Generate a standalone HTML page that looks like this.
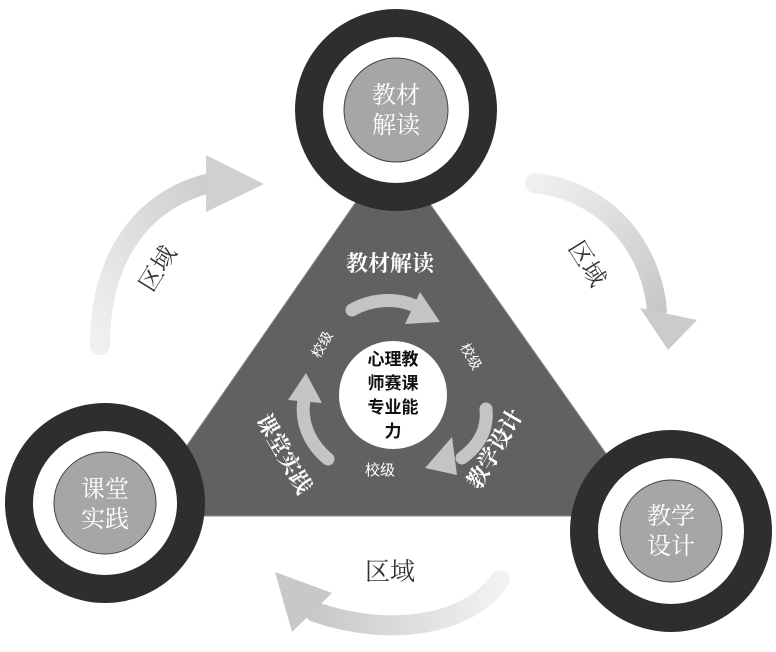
<!DOCTYPE html>
<html><head><meta charset="utf-8"><style>
html,body{margin:0;padding:0;background:#fff;}
svg{display:block;}
.s{font-family:"Liberation Serif","Noto Serif CJK SC",serif;}
.b{font-family:"Liberation Sans","Noto Sans CJK SC",sans-serif;}
</style></head><body>
<svg width="776" height="652" viewBox="0 0 776 652" xmlns="http://www.w3.org/2000/svg">
<defs>
<linearGradient id="gl" x1="0" y1="1" x2="1" y2="0"><stop offset="0" stop-color="#f0f0f0"/><stop offset="1" stop-color="#cdcdcd"/></linearGradient>
<linearGradient id="gr" x1="0" y1="0" x2="1" y2="1"><stop offset="0" stop-color="#f0f0f0"/><stop offset="1" stop-color="#c8c8c8"/></linearGradient>
<linearGradient id="gb" x1="1" y1="0" x2="0" y2="0"><stop offset="0" stop-color="#f2f2f2"/><stop offset="1" stop-color="#c8c8c8"/></linearGradient>
</defs>
<!-- outer arrows -->
<path d="M100,345 C100,260 140,200 210,183" fill="none" stroke="url(#gl)" stroke-width="20" stroke-linecap="round"/>
<polygon points="206,155 264,184 206,212" fill="#d0d0d0"/>
<path d="M535,183 C600,190 650,240 657,310" fill="none" stroke="url(#gr)" stroke-width="20" stroke-linecap="round"/>
<polygon points="640,308 697,320 668,350" fill="#cbcbcb"/>
<path d="M500,580 C470,625 390,638 315,612" fill="none" stroke="url(#gb)" stroke-width="20" stroke-linecap="round"/>
<polygon points="275,572 332,593 292,632" fill="#c8c8c8"/>
<text class="s" x="0" y="0" font-size="24" fill="#333" transform="translate(160,270) rotate(-58)" text-anchor="middle" dominant-baseline="middle">区域</text>
<text class="s" x="0" y="0" font-size="24" fill="#333" transform="translate(585,265) rotate(58)" text-anchor="middle" dominant-baseline="middle">区域</text>
<text class="s" x="390" y="580" font-size="25" fill="#333" text-anchor="middle">区域</text>
<!-- triangle -->
<polygon points="392,150 650,516 138,516" fill="#616161" stroke="#888" stroke-width="1"/>
<!-- center -->
<circle cx="393" cy="395" r="54" fill="#fff"/>
<text class="b" font-size="17" font-weight="bold" fill="#111" text-anchor="middle">
<tspan x="393" y="365">心理教</tspan><tspan x="393" y="389">师赛课</tspan><tspan x="393" y="413">专业能</tspan><tspan x="393" y="437">力</tspan></text>
<!-- inner arrows -->
<path d="M352,310 C375,297 405,297 425,312" fill="none" stroke="#c4c4c4" stroke-width="13" stroke-linecap="round"/>
<polygon points="420,292 440,322 405,324" fill="#c4c4c4"/>
<path d="M486,409 C488,428 480,445 462,458" fill="none" stroke="#c4c4c4" stroke-width="13" stroke-linecap="round"/>
<polygon points="452,437 457,475 425,468" fill="#c4c4c4"/>
<path d="M328,459 C305,440 300,415 305,395" fill="none" stroke="#c4c4c4" stroke-width="13" stroke-linecap="round"/>
<polygon points="288,400 306,373 322,403" fill="#c4c4c4"/>
<text class="s" x="390" y="271" font-size="22" font-weight="bold" fill="#fff" text-anchor="middle">教材解读</text>
<text class="s" font-size="22" font-weight="bold" fill="#fff" transform="translate(497,450) rotate(-60)" text-anchor="middle" dominant-baseline="middle">教学设计</text>
<text class="s" font-size="22" font-weight="bold" fill="#fff" transform="translate(282,455) rotate(60)" text-anchor="middle" dominant-baseline="middle">课堂实践</text>
<text class="b" font-size="14" fill="#fff" transform="translate(323,345) rotate(-60)" text-anchor="middle" dominant-baseline="middle">校级</text>
<text class="b" font-size="14" fill="#fff" transform="translate(470,357) rotate(60)" text-anchor="middle" dominant-baseline="middle">校级</text>
<text class="b" font-size="15" fill="#fff" x="380" y="475" text-anchor="middle">校级</text>
<!-- nodes -->
<g>
<circle cx="396" cy="110" r="101" fill="#2e2e2e"/><circle cx="396" cy="110" r="73" fill="#fff"/><circle cx="396" cy="110" r="52" fill="#a6a6a6" stroke="#444" stroke-width="1"/>
<text class="s" font-size="24" fill="#fff" text-anchor="middle"><tspan x="396" y="103">教材</tspan><tspan x="396" y="133">解读</tspan></text>
</g>
<g>
<circle cx="105" cy="503" r="100" fill="#2e2e2e"/><circle cx="105" cy="503" r="72" fill="#fff"/><circle cx="105" cy="503" r="51" fill="#a6a6a6" stroke="#444" stroke-width="1"/>
<text class="s" font-size="24" fill="#fff" text-anchor="middle"><tspan x="105" y="497">课堂</tspan><tspan x="105" y="527">实践</tspan></text>
</g>
<g>
<circle cx="671" cy="531" r="101" fill="#2e2e2e"/><circle cx="671" cy="531" r="73" fill="#fff"/><circle cx="671" cy="531" r="51" fill="#a6a6a6" stroke="#444" stroke-width="1"/>
<text class="s" font-size="24" fill="#fff" text-anchor="middle"><tspan x="671" y="524">教学</tspan><tspan x="671" y="554">设计</tspan></text>
</g>
</svg>
</body></html>
